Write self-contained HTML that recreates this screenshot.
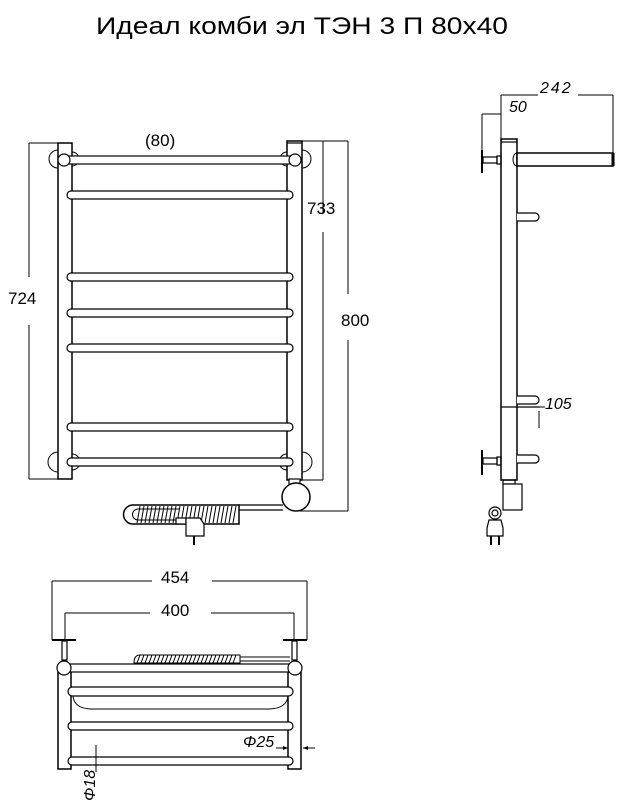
<!DOCTYPE html>
<html><head><meta charset="utf-8"><style>
html,body{margin:0;padding:0;background:#fff;}
svg{display:block;}
text{font-family:"Liberation Sans","DejaVu Sans",sans-serif;fill:#000;}
</style></head><body>
<svg width="625" height="808" viewBox="0 0 625 808" xmlns="http://www.w3.org/2000/svg" fill="none" stroke="#000" stroke-width="1.2">
<text x="96" y="34" font-size="24" textLength="412" lengthAdjust="spacingAndGlyphs" stroke="none">Идеал комби эл ТЭН 3 П 80х40</text>

<!-- FRONT VIEW -->
<g stroke-width="1">
<path d="M58 150 A9 9 0 0 0 58 168"/><path d="M72 152 A7 7 0 0 1 72 166"/>
<path d="M287 152 A7 7 0 0 0 287 166"/><path d="M302 150 A9 9 0 0 1 302 168"/>
<path d="M58 452 A9 9 0 0 0 58 472"/><path d="M72 454 A7 7 0 0 1 72 470"/>
<path d="M287 454 A7 7 0 0 0 287 470"/><path d="M302 452 A9 9 0 0 1 302 472"/>
</g>
<rect x="58" y="143" width="14" height="336" fill="#fff" stroke-width="1.5"/>
<rect x="287" y="141" width="15" height="339" fill="#fff" stroke-width="1.5"/>
<line x1="287" y1="143" x2="302" y2="143"/>
<rect x="62" y="156" width="236" height="8" fill="#fff"/>
<circle cx="64" cy="160" r="6" fill="#fff"/><circle cx="295" cy="160" r="6" fill="#fff"/>
<g fill="#fff">
<rect x="67" y="191" width="226" height="8" rx="4"/>
<rect x="67" y="273" width="226" height="8" rx="4"/>
<rect x="67" y="309" width="226" height="8" rx="4"/>
<rect x="67" y="344" width="226" height="8" rx="4"/>
<rect x="67" y="423" width="226" height="8" rx="4"/>
<rect x="67" y="458" width="226" height="8" rx="4"/>
</g>
<rect x="289" y="479" width="11" height="7" fill="#fff"/>
<circle cx="296" cy="497" r="14" fill="#fff" stroke-width="1.5"/>
<path d="M239 505 L283 505 M239 510 L283 510"/>
<path d="M133 505 L239 505 L239 524 L133 524 A9.5 9.5 0 0 1 133 505 Z" stroke-width="1.5"/>
<path d="M138 509 L180 509 M138 520 L180 520 M138 509 A5.5 5.5 0 0 0 138 520" stroke-width="1"/>
<g stroke-width="1">
<path d="M140 506 l-3 17 M144 506 l-3 17 M148 506 l-3 17 M152 506 l-3 17 M156 506 l-3 17 M160 506 l-3 17 M164 506 l-3 17 M168 506 l-3 17 M172 506 l-3 17 M176 506 l-3 17 M180 506 l-3 17 M184 506 l-3 17 M188 506 l-3 17 M192 506 l-3 17 M196 506 l-3 17 M200 506 l-3 17 M204 506 l-3 17 M208 506 l-3 17 M212 506 l-3 17 M216 506 l-3 17 M220 506 l-3 17 M224 506 l-3 17 M228 506 l-3 17 M232 506 l-3 17 M236 506 l-3 17"/>
</g>
<rect x="176" y="518" width="10" height="6" fill="#fff"/>
<path d="M186 518 L200 518 L204 524 L204 536 L186 536 Z" fill="#fff"/>
<line x1="194" y1="536" x2="194" y2="545" stroke-width="2"/>

<g stroke-width="1">
<path d="M29 143 L58 143 M29 479 L58 479 M29 143 L29 277 M29 325 L29 479"/>
<path d="M302 141 L348 141 M300 480 L323 480 M300 511 L348 511"/>
<path d="M323 141 L323 214 M323 232 L323 480"/>
<path d="M348 141 L348 294 M348 340 L348 511"/>
</g>
<text x="145" y="146" font-size="17" stroke="none">(80)</text>
<text x="8" y="304" font-size="17" stroke="none">724</text>
<text x="307" y="214" font-size="17" stroke="none">733</text>
<text x="341" y="326" font-size="17" stroke="none">800</text>

<!-- SIDE VIEW -->
<rect x="501" y="139" width="16" height="341" fill="#fff" stroke-width="1.5"/>
<line x1="501" y1="142" x2="517" y2="142"/>
<line x1="501" y1="407" x2="540" y2="407"/>
<rect x="517" y="153" width="96" height="13" fill="#fff" stroke-width="1.5"/>
<path d="M517 153 A4 6.5 0 0 0 517 166" stroke-width="1"/>
<line x1="613" y1="153" x2="613" y2="166" stroke-width="3"/>
<path d="M517 213 L535 213 A4 4 0 0 1 535 221 L517 221" fill="#fff"/>
<path d="M517 396 L535 396 A4 4 0 0 1 535 404 L517 404" fill="#fff"/>
<path d="M517 455 L535 455 A4 4 0 0 1 535 463 L517 463" fill="#fff"/>
<line x1="482" y1="150" x2="482" y2="173" stroke-width="2"/>
<rect x="483" y="157" width="14" height="6" fill="#fff"/><rect x="497" y="156" width="4" height="8"/>
<line x1="482" y1="450" x2="482" y2="475" stroke-width="2"/>
<rect x="483" y="458" width="14" height="6" fill="#fff"/><rect x="497" y="457" width="4" height="8"/>
<rect x="503" y="480" width="12" height="4"/>
<rect x="503" y="484" width="19" height="26" fill="#fff"/>
<circle cx="495" cy="513" r="6" fill="#fff"/><circle cx="495" cy="513" r="3"/>
<path d="M489 520 L501 520 L503 528 L503 536 L487 536 L487 528 Z" fill="#fff"/>
<path d="M491 536 L491 545 M499 536 L499 545" stroke-width="2"/>
<g stroke-width="1">
<path d="M501 95 L538 95 M578 95 L613 95 M613 95 L613 153 M501 95 L501 139"/>
<path d="M482 114 L501 114 M482 114 L482 150"/>
<path d="M539 411 L539 428 M539 407 L545 407"/>
</g>
<text x="540" y="93" font-size="16" font-style="italic" stroke="none" letter-spacing="2">242</text>
<text x="509" y="112" font-size="16" font-style="italic" stroke="none">50</text>
<text x="545" y="409" font-size="16" font-style="italic" stroke="none">105</text>

<!-- BOTTOM VIEW -->
<g stroke-width="1">
<path d="M52 581 L152 581 M212 581 L307 581 M52 581 L52 640 M307 581 L307 640"/>
<path d="M65 613 L150 613 M211 613 L294 613 M65 613 L65 640 M294 613 L294 640"/>
</g>
<text x="161" y="583" font-size="17" stroke="none">454</text>
<text x="161" y="616" font-size="17" stroke="none">400</text>
<path d="M52 640 L76 640 M283 640 L307 640" stroke-width="2"/>
<rect x="62" y="641" width="5" height="19"/><rect x="292" y="641" width="5" height="19"/>
<rect x="58" y="672" width="13" height="97" fill="#fff" stroke-width="1.5"/>
<rect x="288" y="672" width="13" height="97" fill="#fff" stroke-width="1.5"/>
<rect x="65" y="664" width="232" height="8" fill="#fff"/>
<circle cx="64" cy="668" r="7" fill="#fff"/><circle cx="295" cy="668" r="7" fill="#fff"/>
<g fill="#fff">
<rect x="68" y="687" width="225" height="9" rx="4.5"/>
<rect x="68" y="722" width="225" height="8" rx="4"/>
<rect x="68" y="757" width="225" height="8" rx="4"/>
</g>
<path d="M73 696 Q74 708 90 709 L270 709 Q287 708 288 696" stroke-width="1"/>
<path d="M134 663 Q134 655 140 655 L240 655 L240 663 Z" stroke-width="1"/>
<path d="M137 663 l3 -8 M141 663 l3 -8 M145 663 l3 -8 M149 663 l3 -8 M153 663 l3 -8 M157 663 l3 -8 M161 663 l3 -8 M165 663 l3 -8 M169 663 l3 -8 M173 663 l3 -8 M177 663 l3 -8 M181 663 l3 -8 M185 663 l3 -8 M189 663 l3 -8 M193 663 l3 -8 M197 663 l3 -8 M201 663 l3 -8 M205 663 l3 -8 M209 663 l3 -8 M213 663 l3 -8 M217 663 l3 -8 M221 663 l3 -8 M225 663 l3 -8 M229 663 l3 -8 M233 663 l3 -8" stroke-width="1"/>
<path d="M240 657 L290 657 M240 661 L290 661" stroke-width="1"/>
<g stroke-width="1">
<path d="M276 748 L288 748 M303 748 L315 748"/>
<path d="M96 745 L96 772"/>
</g>
<polygon points="288,748 283,746 283,750" fill="#000" stroke="none"/>
<polygon points="303,748 308,746 308,750" fill="#000" stroke="none"/>
<text x="243" y="747" font-size="16" font-style="italic" stroke="none">Φ25</text>
<text transform="translate(95,801) rotate(-90)" font-size="16" font-style="italic" stroke="none">Φ18</text>
</svg>
</body></html>
